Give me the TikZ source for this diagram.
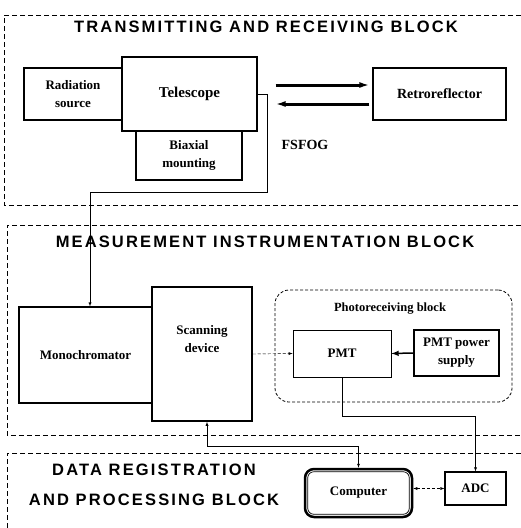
\documentclass[tikz,border=0pt]{standalone}
\usepackage{fontspec}
\setmainfont{Liberation Serif}
\newfontfamily\titlefont{Liberation Sans}[LetterSpace=13]
\usetikzlibrary{arrows.meta}

\tikzstyle{unit} = [rectangle, draw=black, line width=1.1pt, align=center, inner sep=0pt, fill=white, font=\fontsize{13}{18}\selectfont\bfseries]
\tikzstyle{blockframe} = [line width=0.8pt, dash pattern=on 5pt off 3pt]
\tikzstyle{blocktitle} = [font=\titlefont\bfseries\fontsize{16.5}{30}\selectfont, align=center]
\tikzstyle{beam} = [line width=3pt, -{Latex[length=10pt,width=6pt]}]

\begin{document}
\begin{tikzpicture}[x=1pt, y=-1pt]
        \useasboundingbox (0,0) rectangle (521,528);

        % block frames
        \draw [blockframe] (521,15) -- (4,15) -- (4,205) -- (521,205);
        \draw [blockframe] (521,225) -- (7,225) -- (7,435) -- (521,435);
        \draw [blockframe] (521,453) -- (7,453) -- (7,528);
        \node (t1) [blocktitle] at (266,27) {TRANSMITTING AND RECEIVING BLOCK};
        \node (t2) [blocktitle] at (265,242) {MEASUREMENT INSTRUMENTATION BLOCK};
        \node (t3) [blocktitle] at (154,485) {DATA REGISTRATION\\AND PROCESSING BLOCK};

        % transmitting and receiving block
        \node (src)   [unit, minimum width=98pt, minimum height=52pt] at (73,94) {Radiation\\source};
        \node (tel)   [unit, minimum width=135pt, minimum height=74pt, font=\fontsize{15}{18}\selectfont\bfseries] at (189.5,94) {Telescope};
        \node (mount) [unit, minimum width=106pt, minimum height=49pt] at (189,155.5) {Biaxial\\mounting};
        \node (retro) [unit, minimum width=133pt, minimum height=52pt, font=\fontsize{14}{18}\selectfont\bfseries] at (439.5,94) {Retroreflector};
        \node (fsfog) [font=\fontsize{14}{18}\selectfont\bfseries] at (305,145) {FSFOG};

        \draw [beam] ([xshift=18pt,yshift=9pt]tel.east) -- ([xshift=-3pt,yshift=9pt]retro.west);
        \draw [beam] ([xshift=-3pt,yshift=-10pt]retro.west) -- ([xshift=18pt,yshift=-10pt]tel.east);

        % measurement instrumentation block
        \node (mono)  [unit, minimum width=133pt, minimum height=96pt] at (85.5,355) {Monochromator};
        \node (scan)  [unit, minimum width=100pt, minimum height=134pt, line width=1.5pt] at (202,354) {Scanning\\device\\[12pt]};
        \node (photo) [rectangle, draw, rounded corners=14pt, line width=0.8pt, densely dashed, minimum width=237pt, minimum height=112pt] at (393.5,346) {};
        \node (plabel) [font=\fontsize{12.5}{14}\selectfont\bfseries] at (390,309) {Photoreceiving block};
        \node (pmt)   [unit, minimum width=98pt, minimum height=47pt, line width=0.8pt] at (342,353.5) {PMT};
        \node (ps)    [unit, minimum width=85pt, minimum height=46pt] at (456.5,353) {PMT power\\supply};

        \coordinate (bend) at (267,192);
        \draw [-latex] (tel.east) -| (bend) -| ([xshift=4.5pt]mono.north);
        \draw [-latex, densely dashed] (scan.east) -- (pmt.west);
        \draw [-latex, line width=1.5pt] (ps.west) -- (pmt.east);

        % data registration and processing block
        \node (comp) [unit, rounded corners=9pt, line width=2.5pt, minimum width=107pt, minimum height=48pt] at (358.5,493) {Computer};
        \draw [rounded corners=6pt, line width=0.7pt] ([shift={(4pt,-4pt)}]comp.north west) rectangle ([shift={(-4pt,4pt)}]comp.south east);
        \node (adc)  [unit, minimum width=61pt, minimum height=33pt] at (475.5,488.5) {ADC};

        \draw [-latex] (pmt.south) -- ++(0,39) -| (adc.north);
        \draw [latex-latex] ([xshift=5pt]scan.south) -- ++(0,24) -| (comp.north);
        \draw [latex-latex, densely dashed] (comp.east |- adc.west) -- (adc.west);
    \end{tikzpicture}
\end{document}
